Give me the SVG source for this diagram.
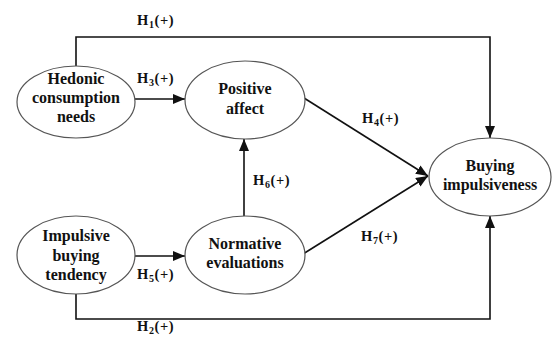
<svg xmlns="http://www.w3.org/2000/svg" width="552" height="342" viewBox="0 0 552 342">
<style>
.node ellipse{fill:#fff;stroke:#555;stroke-width:1.2}
.nt{font-family:"Liberation Serif","Times New Roman",serif;font-weight:bold;font-size:16px;fill:#111;text-anchor:middle}
.lb{font-family:"Liberation Serif","Times New Roman",serif;font-weight:bold;font-size:14.5px;letter-spacing:0.6px;fill:#111}
.lb tspan.s{font-size:10px}
.c{fill:none;stroke:#111;stroke-width:1.6}
</style>
<defs>
<marker id="ah" viewBox="0 0 12 10" refX="12" refY="5" markerWidth="12" markerHeight="10" markerUnits="userSpaceOnUse" orient="auto">
<path d="M0,0 L12,5 L0,10 Z" fill="#111"/>
</marker>
</defs>
<rect width="552" height="342" fill="#fff"/>
<g id="connectors">
<path class="c" d="M76,66 V37 H490 V138" marker-end="url(#ah)"/>
<path class="c" d="M76,294 V319 H490 V216" marker-end="url(#ah)"/>
<path class="c" d="M135,99 H185" marker-end="url(#ah)"/>
<path class="c" d="M135,256 H185" marker-end="url(#ah)"/>
<path class="c" d="M244,216 V139" marker-end="url(#ah)"/>
<path class="c" d="M304,98 L428,176" marker-end="url(#ah)"/>
<path class="c" d="M303,254 L428,176" marker-end="url(#ah)"/>
</g>
<g id="labels">
<text class="lb" x="137" y="25">H<tspan class="s" dy="3">1</tspan><tspan dy="-3">(+)</tspan></text>
<text class="lb" x="137" y="83">H<tspan class="s" dy="3">3</tspan><tspan dy="-3">(+)</tspan></text>
<text class="lb" x="362" y="123">H<tspan class="s" dy="3">4</tspan><tspan dy="-3">(+)</tspan></text>
<text class="lb" x="253" y="185">H<tspan class="s" dy="3">6</tspan><tspan dy="-3">(+)</tspan></text>
<text class="lb" x="361" y="241">H<tspan class="s" dy="3">7</tspan><tspan dy="-3">(+)</tspan></text>
<text class="lb" x="137" y="279">H<tspan class="s" dy="3">5</tspan><tspan dy="-3">(+)</tspan></text>
<text class="lb" x="137" y="331">H<tspan class="s" dy="3">2</tspan><tspan dy="-3">(+)</tspan></text>
</g>
<g id="hedonic" class="node">
<ellipse cx="76" cy="102" rx="59" ry="36"/>
<text class="nt" x="76" y="84">Hedonic</text>
<text class="nt" x="76" y="103">consumption</text>
<text class="nt" x="76" y="122">needs</text>
</g>
<g id="positive" class="node">
<ellipse cx="245" cy="100" rx="60" ry="39"/>
<text class="nt" x="245" y="94">Positive</text>
<text class="nt" x="245" y="114">affect</text>
</g>
<g id="buying" class="node">
<ellipse cx="490" cy="177" rx="61" ry="39"/>
<text class="nt" x="490" y="171">Buying</text>
<text class="nt" x="490" y="190">impulsiveness</text>
</g>
<g id="impulsive" class="node">
<ellipse cx="76" cy="255" rx="59" ry="39"/>
<text class="nt" x="76" y="241">Impulsive</text>
<text class="nt" x="76" y="261">buying</text>
<text class="nt" x="76" y="280">tendency</text>
</g>
<g id="normative" class="node">
<ellipse cx="245" cy="255" rx="60" ry="39"/>
<text class="nt" x="245" y="249">Normative</text>
<text class="nt" x="245" y="268">evaluations</text>
</g>
</svg>
